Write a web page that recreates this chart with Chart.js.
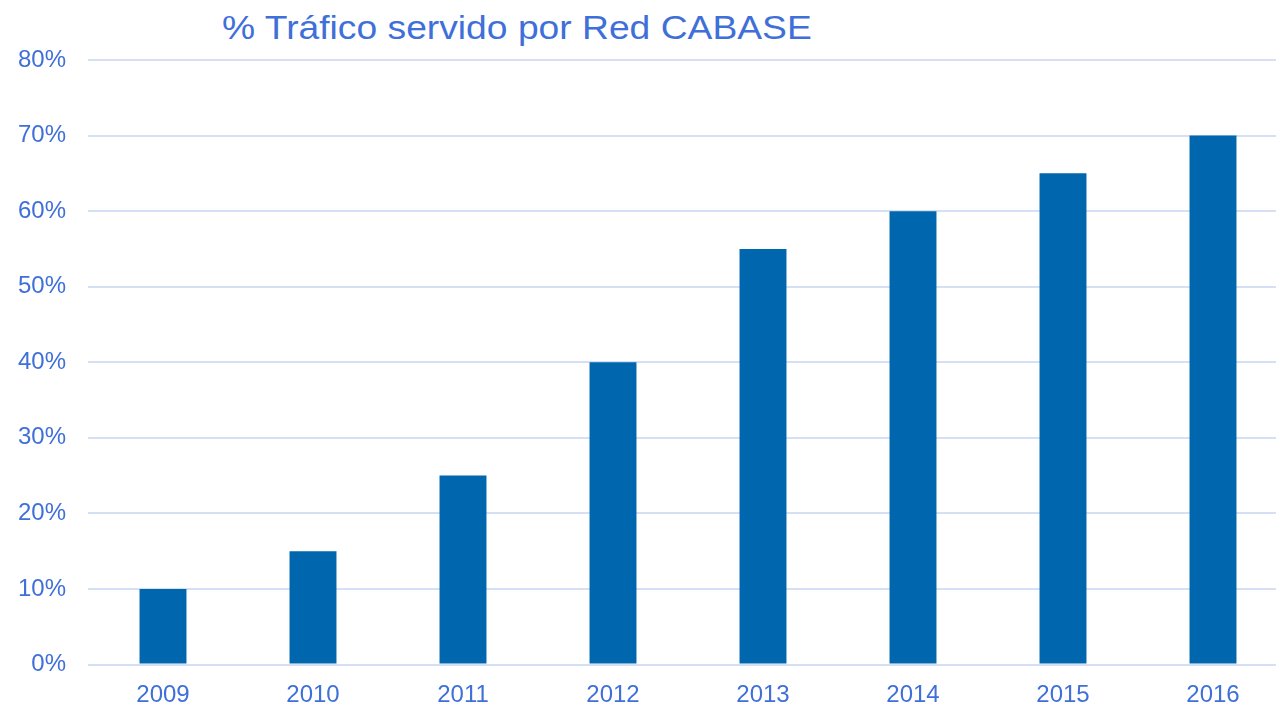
<!DOCTYPE html>
<html><head><meta charset="utf-8">
<script src="https://cdn.jsdelivr.net/npm/chart.js@4/dist/chart.umd.min.js"></script>
<style>
html,body{margin:0;padding:0;background:#fff;overflow:hidden;width:1276px;height:706px;}
#wrap{position:relative;width:1288px;height:706px;}
#title{position:absolute;left:222px;top:5px;font-family:Arial,"Liberation Sans",sans-serif;font-size:34px;color:#3F6FD8;white-space:nowrap;line-height:44px;transform-origin:0 50%;transform:scaleX(1.095);}
canvas{position:absolute;left:0;top:0;}
</style></head>
<body>
<div id="wrap">
<div id="title">% Tráfico servido por Red CABASE</div>
<canvas id="c" width="1288" height="706"></canvas>
</div>
<script>
const categories = ["2009","2010","2011","2012","2013","2014","2015","2016"];
const trafficPct = [10,15,25,40,55,60,65,70];
const yTicks = [0,10,20,30,40,50,60,70,80];

const blue = "#3F6FD8";
const fam = "Arial, 'Liberation Sans', sans-serif";
new Chart(document.getElementById("c"), {
  type: "bar",
  data: {
    labels: categories,
    datasets: [{
      data: trafficPct,
      backgroundColor: "#0066AD",
      barPercentage: 0.313,
      categoryPercentage: 1.0
    }]
  },
  options: {
    responsive: false,
    animation: false,
    devicePixelRatio: 1,
    layout: { padding: { top: 60, right: 0, left: 0, bottom: 0 } },
    plugins: { legend: { display: false }, tooltip: { enabled: false }, title: { display: false } },
    scales: {
      x: {
        grid: { display: false, drawTicks: false },
        border: { display: false },
        afterFit: (s) => { s.height = 41.5; },
        ticks: { color: blue, padding: 16, font: { family: fam, size: 24 } }
      },
      y: {
        min: 0, max: 80,
        afterBuildTicks: (s) => { s.ticks = yTicks.map(v => ({ value: v })); },
        afterFit: (s) => { s.width = 88; },
        grid: { color: "#D6E0F5", lineWidth: 2, drawTicks: false },
        border: { display: false },
        ticks: { color: blue, padding: 22, font: { family: fam, size: 24 },
                 callback: (v) => v + "%" }
      }
    }
  }
});
</script>
</body></html>
